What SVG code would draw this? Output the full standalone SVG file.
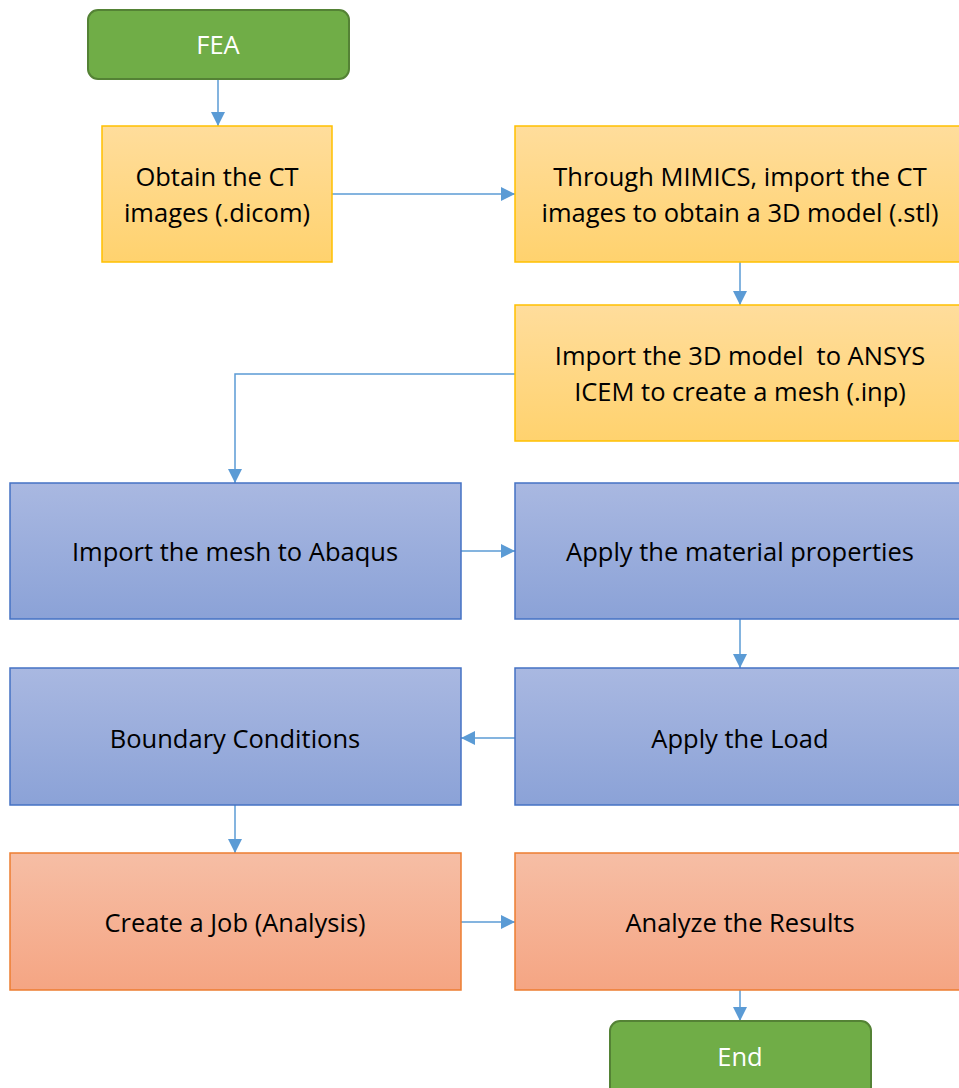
<svg xmlns="http://www.w3.org/2000/svg" width="959" height="1088" viewBox="0 0 959 1088">
<defs>
<linearGradient id="gy" x1="0" y1="0" x2="0" y2="1"><stop offset="0" stop-color="#FFDD9C"/><stop offset="1" stop-color="#FFD26E"/></linearGradient>
<linearGradient id="gb" x1="0" y1="0" x2="0" y2="1"><stop offset="0" stop-color="#A9B8E1"/><stop offset="1" stop-color="#8BA2D7"/></linearGradient>
<linearGradient id="go" x1="0" y1="0" x2="0" y2="1"><stop offset="0" stop-color="#F6BEA5"/><stop offset="1" stop-color="#F5A583"/></linearGradient>
<marker id="ah" viewBox="0 0 10 10" refX="10" refY="5" markerWidth="14" markerHeight="14" markerUnits="userSpaceOnUse" orient="auto"><path d="M0,0 L10,5 L0,10 Z" fill="#5B9BD5"/></marker>
<style>
.y{fill:url(#gy);stroke:#FFC000;stroke-width:1.5}
.b{fill:url(#gb);stroke:#4472C4;stroke-width:1.5}
.o{fill:url(#go);stroke:#ED7D31;stroke-width:1.5}
.g{fill:#70AD47;stroke:#548235;stroke-width:2}
.t{font-family:"Open Sans","Liberation Sans",sans-serif;font-size:25.5px;fill:#000;text-anchor:middle}
.w{fill:#fff}
.c{fill:none;stroke:#5B9BD5;stroke-width:1.5;marker-end:url(#ah)}
</style>
</defs>
<g id="connectors">
<path class="c" d="M218,79 V126"/>
<path class="c" d="M332,194 H515"/>
<path class="c" d="M740,262 V305"/>
<path class="c" d="M515,374 H235 V483"/>
<path class="c" d="M461,551 H515"/>
<path class="c" d="M740,619 V668"/>
<path class="c" d="M515,738 H461"/>
<path class="c" d="M235,805 V853"/>
<path class="c" d="M461,922 H515"/>
<path class="c" d="M740,990 V1021"/>
</g>
<g id="fea"><rect class="g" x="88" y="10" width="261" height="69" rx="10"/><text class="t w" x="218" y="54">FEA</text></g>
<g id="obtain"><rect class="y" x="102" y="126" width="230" height="136"/><text class="t" x="217" y="186">Obtain the CT</text><text class="t" x="217" y="222">images (.dicom)</text></g>
<g id="mimics"><rect class="y" x="515" y="126" width="450" height="136"/><text class="t" x="740" y="186">Through MIMICS, import the CT</text><text class="t" x="740" y="222">images to obtain a 3D model (.stl)</text></g>
<g id="ansys"><rect class="y" x="515" y="305" width="450" height="136"/><text class="t" x="740" y="365" xml:space="preserve">Import the 3D model  to ANSYS</text><text class="t" x="740" y="401">ICEM to create a mesh (.inp)</text></g>
<g id="abaqus"><rect class="b" x="10" y="483" width="451" height="136"/><text class="t" x="235" y="561">Import the mesh to Abaqus</text></g>
<g id="material"><rect class="b" x="515" y="483" width="450" height="136"/><text class="t" x="740" y="561">Apply the material properties</text></g>
<g id="boundary"><rect class="b" x="10" y="668" width="451" height="137"/><text class="t" x="235" y="748">Boundary Conditions</text></g>
<g id="load"><rect class="b" x="515" y="668" width="450" height="137"/><text class="t" x="740" y="748">Apply the Load</text></g>
<g id="job"><rect class="o" x="10" y="853" width="451" height="137"/><text class="t" x="235" y="932">Create a Job (Analysis)</text></g>
<g id="results"><rect class="o" x="515" y="853" width="450" height="137"/><text class="t" x="740" y="932">Analyze the Results</text></g>
<g id="end"><rect class="g" x="610" y="1021" width="261" height="80" rx="10"/><text class="t w" x="740" y="1066">End</text></g>
</svg>
